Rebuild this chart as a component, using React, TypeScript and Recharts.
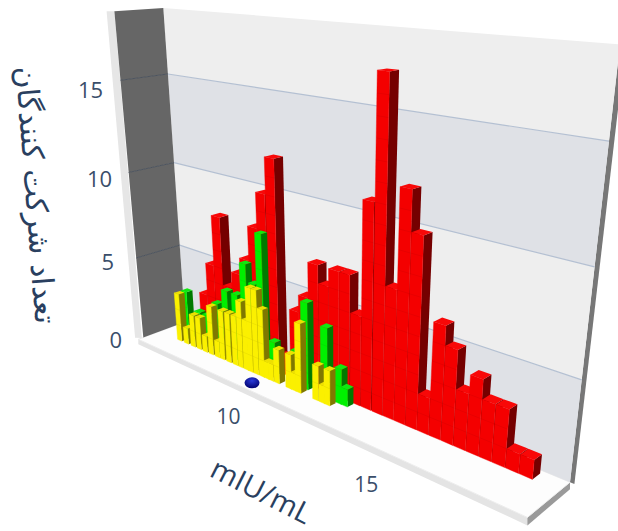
import { Bar, ComposedChart, ReferenceArea, Scatter, XAxis, YAxis } from 'recharts'

const redX = [5.35, 5.75, 6.15, 6.55, 6.97, 7.38, 7.8, 8.2, 8.62, 8.95, 9.2, 9.5, 9.88, 10.28, 10.68, 11.08, 11.48, 11.9, 12.3, 12.72, 13.12, 13.52, 13.92, 14.32, 14.72, 15.12, 15.52, 15.92, 16.32, 16.72, 17.12, 17.52]
const redValues = [3, 5, 8, 4, 5, 6, 8, 10, 12, 1, 1, 4, 5, 7, 6, 7, 7, 5, 11, 17, 7, 12, 10, 2, 6, 5, 3, 4, 3, 3, 1, 1]
const greenX = [4.71, 5.33, 5.73, 6.24, 6.73, 7.2, 7.63, 8.01, 8.36, 8.81, 9.76, 10.19, 10.96, 11.51, 11.74]
const greenValues = [3, 2, 2, 3, 4, 4, 6, 5, 8, 2, 2, 5, 4, 2, 1]
const yellowX = [4.7, 5.05, 5.4, 5.7, 6, 6.3, 6.6, 6.85, 7.15, 7.45, 7.7, 7.95, 8.15, 8.4, 8.65, 8.85, 9.05, 9.3, 9.8, 10, 10.2, 10.9, 11.15, 11.35]
const yellowValues = [3, 1, 2, 2, 1, 3, 1, 3, 3, 3, 4, 3, 5, 5, 4, 1, 1, 2, 2, 1, 4, 2, 1, 2]
const markerX = [8.8]
const markerY = [0]
const bandEdges = [0, 5, 10, 15, 18.5]
const xTicks = [10, 15]
const yTicks = [0, 5, 10, 15]

const W = 618
const H = 531

const rows = new Map<number, any>()
const addSeries = (key: string, xs: number[], vals: number[]) => {
  xs.forEach((x, i) => {
    rows.set(x, { ...(rows.get(x) || { x }), [key]: vals[i] })
  })
}
addSeries('red', redX, redValues)
addSeries('green', greenX, greenValues)
addSeries('yellow', yellowX, yellowValues)
const table = [...rows.values()].sort((p, q) => p.x - q.x)

// camera: plot fractions (u, v) plus a depth go through one perspective matrix
const project = (u: number, v: number, z: number) => {
  const a = -0.2928 * u
  const b = -0.1248 * v
  const c = -0.0393 * z
  const w = 1 + a + b + c
  return [(185 - 745 * a + 337 * b + 1238 * c) / w, (322 - 65 * a + 2525 * b - 68 * c) / w]
}
const poly = (pts: number[][]) =>
  pts.map((p) => project(p[0], p[1], p[2]).map((n) => n.toFixed(1)).join(',')).join(' ')

function Floor() {
  const edge = (u: number, z: number, drop: number) => {
    const p = project(u, 0, z)
    return `${p[0].toFixed(1)},${(p[1] + drop).toFixed(1)}`
  }
  return (
    <g>
      <polygon points={`${edge(0, 1.08, 0)} ${edge(1, 1.08, 0)} ${edge(1, 1.08, 8)} ${edge(0, 1.08, 5)}`} fill="#e4e4e4" />
      <polygon points={`${edge(1, 1.08, 0)} ${edge(1, 0, 0)} ${edge(1, 0, 7)} ${edge(1, 1.08, 8)}`} fill="#9a9a9a" />
      <polygon points={poly([[0, 0, 0], [1, 0, 0], [1, 0, 1.08], [0, 0, 1.08]])} fill="#fdfdfd" stroke="#ececec" />
      <polygon points={poly([[1, 0, 0], [1.008, 0, 0], [1.008, 1, 0], [1, 1, 0]])} fill="#777777" />
      <polygon points={poly([[-0.012, 0, 1.08], [0, 0, 1], [0, 1, 0.97], [-0.012, 1, 1.05]])} fill="#e6e6e6" />
    </g>
  )
}

function WallBand(props: any) {
  const { y, height, index } = props
  const v0 = (H - y - height) / H
  const v1 = (H - y) / H
  const a = project(0, v0, 0)
  const b = project(1, v0, 0)
  const c = project(0, v0, 0.97)
  return (
    <g>
      <polygon
        points={poly([[0, v0, 0], [1, v0, 0], [1, v1, 0], [0, v1, 0]])}
        fill={index % 2 === 0 ? '#dfe1e6' : '#eeeeee'}
      />
      <polygon points={poly([[0, v0, 0], [0, v0, 0.97], [0, v1, 0.97], [0, v1, 0]])} fill="#666666" />
      {index > 0 && (
        <>
          <line x1={a[0]} y1={a[1]} x2={b[0]} y2={b[1]} stroke="#b4c0d2" strokeWidth={1.2} />
          <line x1={a[0]} y1={a[1]} x2={c[0]} y2={c[1]} stroke="#4d545e" strokeWidth={1} />
        </>
      )}
    </g>
  )
}

// the library's x gives the centre of a bin; the box width is in plot pixels
const makeBox = (key: string, size: number, front: string, side: string, top: string, zFront: number, zBack: number) =>
  function Box(props: any) {
    const { x, y, width, height, payload } = props
    const count = payload[key]
    if (!count || !(height > 0)) return null
    const mid = x + width / 2
    const u0 = (mid - size / 2) / W
    const u1 = (mid + size / 2) / W
    const v = ((H - y) / H) * 0.985
    const joints = Array.from({ length: count - 1 }, (_, i) => ((i + 1) * v) / count)
    return (
      <g>
        <polygon points={poly([[u1, 0, zFront], [u1, v, zFront], [u1, v, zBack], [u1, 0, zBack]])} fill={side} />
        <polygon points={poly([[u0, v, zFront], [u1, v, zFront], [u1, v, zBack], [u0, v, zBack]])} fill={top} />
        <polygon points={poly([[u0, 0, zFront], [u1, 0, zFront], [u1, v, zFront], [u0, v, zFront]])} fill={front} stroke={front} strokeWidth={0.4} />
        {joints.map((j) => {
          const p = project(u0, j, zFront)
          const q = project(u1, j, zFront)
          return <line key={j} x1={p[0]} y1={p[1]} x2={q[0]} y2={q[1]} stroke="#000" strokeOpacity={0.05} />
        })}
      </g>
    )
  }

const RedBox = makeBox('red', 16, '#f40000', '#750000', '#f80808', 0.28, 0.08)
const GreenBox = makeBox('green', 11, '#00f000', '#007a00', '#10e810', 0.44, 0.3)
const YellowBox = makeBox('yellow', 9.5, '#fbf000', '#7f7800', '#eee000', 0.6, 0.47)

function Marker(props: any) {
  const p = project(props.cx / W, (H - props.cy) / H, 0.9)
  return <ellipse cx={p[0]} cy={p[1] - 1} rx={7.5} ry={5.5} fill="url(#markerFill)" />
}

function XTick(props: any) {
  const p = project(props.x / W, 0, 1.85)
  return (
    <text x={p[0] - 7} y={p[1] - 2} textAnchor="middle" dominantBaseline="central" fontFamily="Open Sans" fontSize={21} fill="#3a4e6a">
      {props.payload.value}
    </text>
  )
}

function YTick(props: any) {
  const p = project(-0.1, (H - props.y) / H, 1)
  return (
    <text x={p[0]} y={p[1] + 13} textAnchor="middle" dominantBaseline="central" fontFamily="Open Sans" fontSize={22} fill="#3a4e6a">
      {props.payload.value}
    </text>
  )
}

export default function App() {
  return (
    <div style={{ position: 'absolute', left: 0, top: 0, width: W, height: H, background: '#fff' }}>
      <ComposedChart width={W} height={H} data={table} margin={{ top: 0, right: 0, bottom: 0, left: 0 }}>
        <defs>
          <radialGradient id="markerFill" cx="50%" cy="30%" r="70%">
            <stop offset="0%" stopColor="#2a3ad8" />
            <stop offset="100%" stopColor="#00006e" />
          </radialGradient>
        </defs>
        <XAxis xAxisId="red" dataKey="x" type="number" domain={[3.62, 18.46]} ticks={xTicks} interval={0} height={1} mirror axisLine={false} tickLine={false} tick={<XTick />} />
        <XAxis xAxisId="green" dataKey="x" type="number" domain={[3.62, 18.46]} hide />
        <XAxis xAxisId="yellow" dataKey="x" type="number" domain={[3.62, 18.46]} hide />
        <YAxis type="number" domain={[0, 18.5]} ticks={yTicks} interval={0} width={1} mirror axisLine={false} tickLine={false} tick={<YTick />} />
        <ReferenceArea xAxisId="red" x1={3.62} x2={18.46} y1={0} y2={18.5} shape={<Floor />} />
        {bandEdges.slice(0, -1).map((edge, i) => (
          <ReferenceArea
            key={edge}
            xAxisId="red"
            x1={3.62}
            x2={18.46}
            y1={edge}
            y2={bandEdges[i + 1]}
            shape={(p: any) => <WallBand {...p} index={i} />}
          />
        ))}
        <Bar xAxisId="red" dataKey="red" barSize={16} shape={RedBox} isAnimationActive={false} />
        <Bar xAxisId="green" dataKey="green" barSize={11} shape={GreenBox} isAnimationActive={false} />
        <Bar xAxisId="yellow" dataKey="yellow" barSize={9} shape={YellowBox} isAnimationActive={false} />
        <Scatter
          xAxisId="red"
          data={[{ x: markerX[0], y: markerY[0] }]}
          dataKey="y"
          shape={Marker}
          isAnimationActive={false}
        />
        <text
          transform="translate(36 195) rotate(85.6)"
          textAnchor="middle"
          dominantBaseline="central"
          direction="rtl"
          fontFamily="DejaVu Sans"
          fontSize={30}
          fill="#2a3f5f"
        >
          تعداد شرکت کنندگان
        </text>
        <text
          transform="translate(262 490) rotate(27)"
          textAnchor="middle"
          dominantBaseline="central"
          fontFamily="Open Sans"
          fontSize={29}
          fill="#2a3f5f"
        >
          mIU/mL
        </text>
      </ComposedChart>
    </div>
  )
}
